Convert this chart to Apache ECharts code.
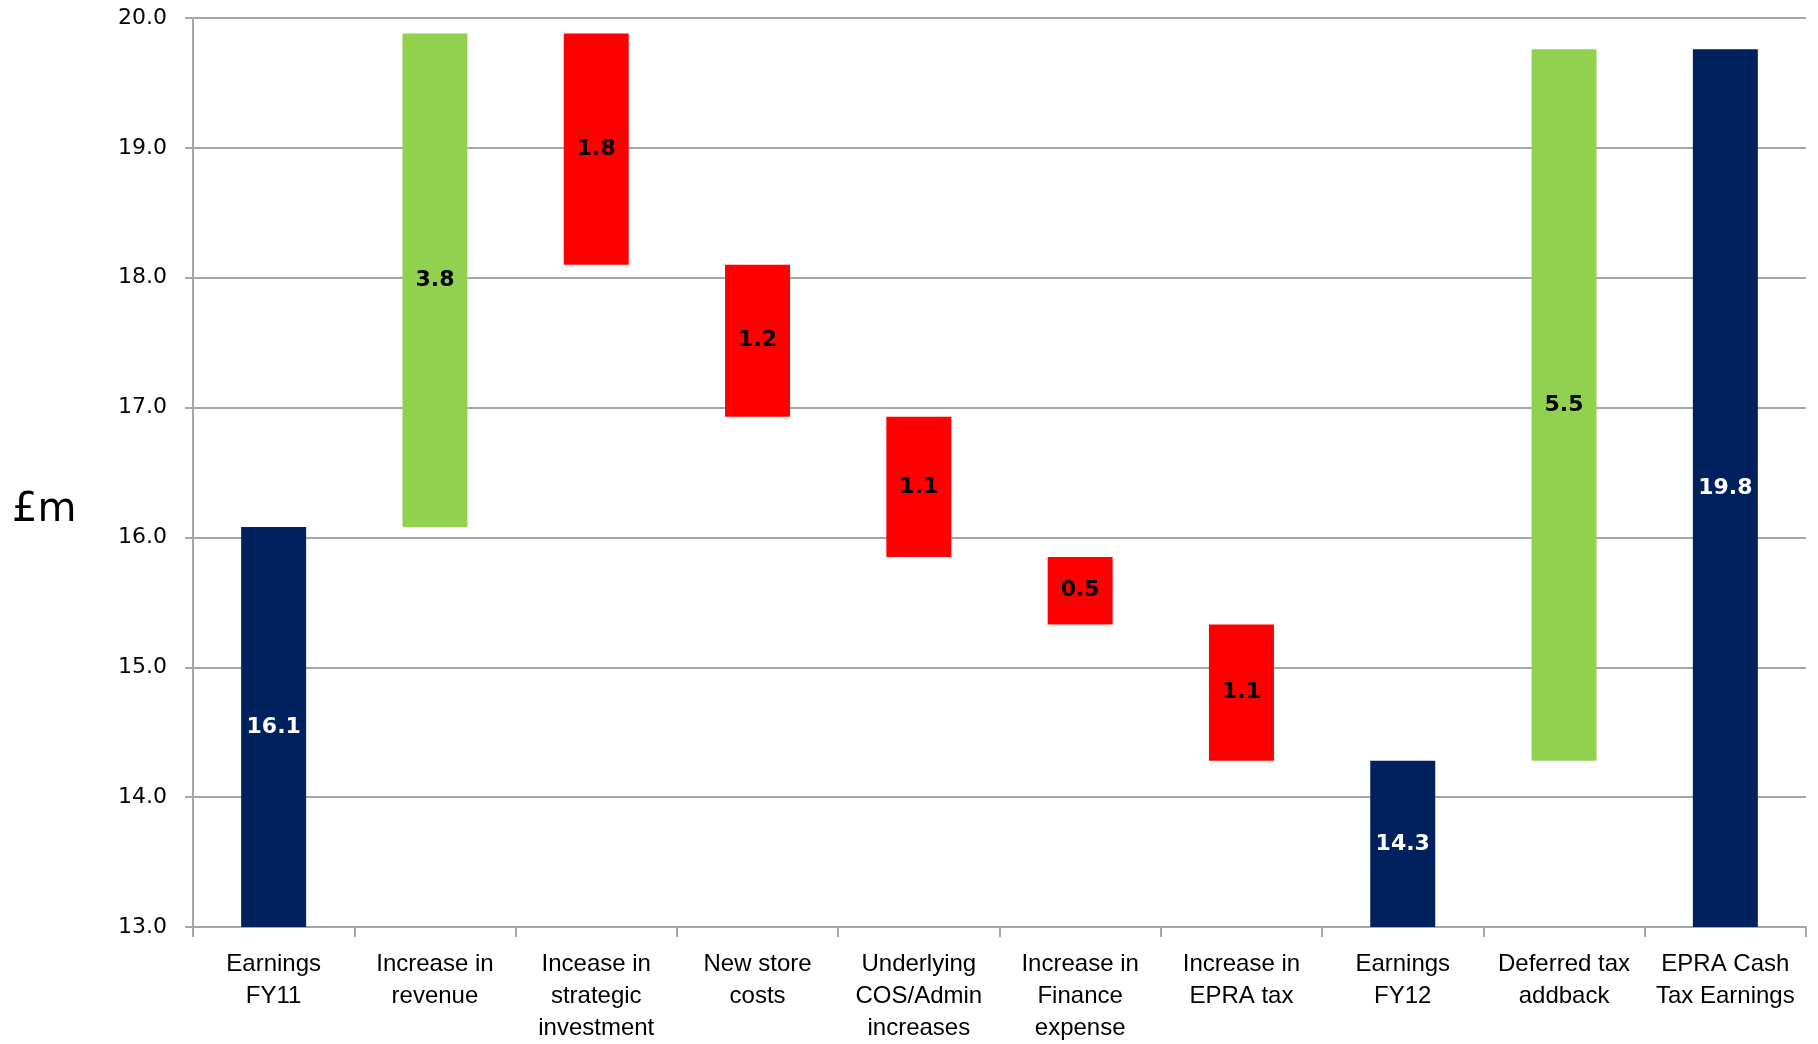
<!DOCTYPE html>
<html>
<head>
<meta charset="utf-8">
<title>Earnings bridge</title>
<script src="https://cdn.jsdelivr.net/npm/echarts@6/dist/echarts.min.js"></script>
<style>
  html, body { margin: 0; padding: 0; background: #fff; }
  #chart { width: 1818px; height: 1044px; }
</style>
</head>
<body>
<div id="chart"></div>
<script>
// categories along the bottom
var categories = [
  "Earnings\nFY11",
  "Increase in\nrevenue",
  "Incease in\nstrategic\ninvestment",
  "New store\ncosts",
  "Underlying\nCOS/Admin\nincreases",
  "Increase in\nFinance\nexpense",
  "Increase in\nEPRA tax",
  "Earnings\nFY12",
  "Deferred tax\naddback",
  "EPRA Cash\nTax Earnings"
];
// full bars (navy)
var totals = [16.08, null, null, null, null, null, null, 14.28, null, 19.76];
// steps between them (green up, red down)
var changes = [null, 3.80, -1.78, -1.17, -1.08, -0.52, -1.05, null, 5.48, null];
// y axis
var yMin = 13, yMax = 20, yStep = 1;

var gridColor = "#a6a6a6";

// build the floating bars: invisible base + visible step
var baseData = [], upData = [], downData = [], totalData = [];
var running = 0;
for (var i = 0; i < categories.length; i++) {
  if (totals[i] != null) {
    running = totals[i];
    totalData.push(totals[i]);
    baseData.push("-");
    upData.push("-");
    downData.push("-");
  } else {
    var c = changes[i];
    totalData.push("-");
    if (c > 0) {
      baseData.push(running);
      upData.push(c);
      downData.push("-");
    } else {
      baseData.push(running + c);
      upData.push("-");
      downData.push(-c);
    }
    running += c;
  }
}

var labelFont = {
  show: true,
  position: "inside",
  fontFamily: "DejaVu Sans",
  fontWeight: "bold",
  fontSize: 22,
  formatter: function (p) {
    return Math.abs(p.value).toFixed(1);
  }
};

var myChart = echarts.init(document.getElementById("chart"));
var option = {
  animation: false,
  backgroundColor: "#fff",
  grid: {
    left: 193,
    right: 12,
    top: 18,
    bottom: 114,
    containLabel: false
  },
  graphic: [
    {
      type: "text",
      left: 12,
      top: 491,
      style: {
        text: "£m",
        fontFamily: "DejaVu Sans",
        fontSize: 40,
        fill: "#000"
      }
    }
  ],
  xAxis: {
    type: "category",
    data: categories,
    axisLine: { lineStyle: { color: gridColor, width: 2 } },
    axisTick: {
      show: true,
      alignWithLabel: false,
      length: 10,
      lineStyle: { color: gridColor, width: 2 }
    },
    axisLabel: {
      interval: 0,
      margin: 21,
      color: "#000",
      fontFamily: "Liberation Sans",
      fontSize: 24,
      lineHeight: 32
    }
  },
  yAxis: {
    type: "value",
    min: yMin,
    max: yMax,
    interval: yStep,
    axisLine: { show: true, lineStyle: { color: gridColor, width: 2 } },
    axisTick: {
      show: true,
      length: 8,
      lineStyle: { color: gridColor, width: 2 }
    },
    axisLabel: {
      margin: 26,
      color: "#000",
      fontFamily: "DejaVu Sans",
      fontSize: 22,
      formatter: function (v) {
        return v.toFixed(1);
      }
    },
    splitLine: { lineStyle: { color: gridColor, width: 2 } }
  },
  series: [
    {
      name: "base",
      type: "bar",
      stack: "bridge",
      barWidth: 65,
      barGap: "-100%",
      itemStyle: { color: "transparent" },
      emphasis: { disabled: true },
      data: baseData
    },
    {
      name: "increase",
      type: "bar",
      stack: "bridge",
      barWidth: 65,
      barGap: "-100%",
      itemStyle: { color: "#92d050" },
      label: Object.assign({}, labelFont, { color: "#000" }),
      data: upData
    },
    {
      name: "decrease",
      type: "bar",
      stack: "bridge",
      barWidth: 65,
      barGap: "-100%",
      itemStyle: { color: "#ff0000" },
      label: Object.assign({}, labelFont, { color: "#000" }),
      data: downData
    },
    {
      name: "earnings",
      type: "bar",
      barWidth: 65,
      barGap: "-100%",
      itemStyle: { color: "#00215e" },
      label: Object.assign({}, labelFont, { color: "#fff" }),
      data: totalData
    }
  ]
};
myChart.setOption(option);
window.addEventListener("resize", function () {
  myChart.resize();
});
</script>
</body>
</html>
